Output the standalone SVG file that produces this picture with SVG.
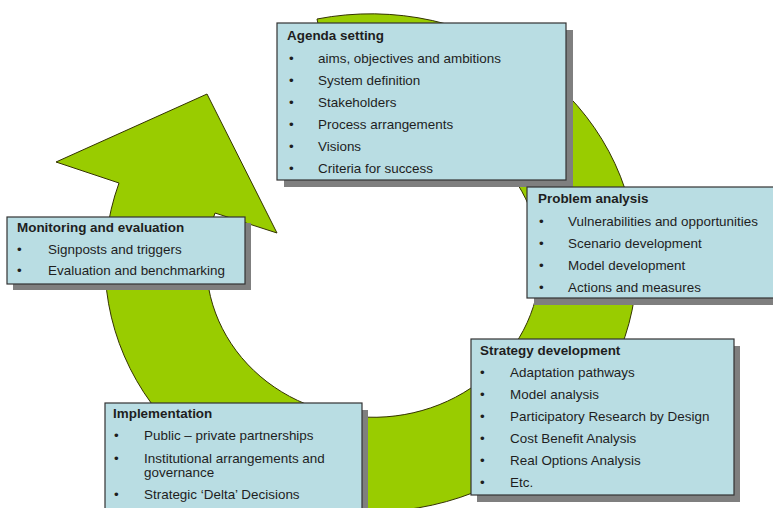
<svg xmlns="http://www.w3.org/2000/svg" width="773" height="508" viewBox="0 0 773 508">
  <style>
    .box { fill: #B9DDE3; stroke: #333333; stroke-width: 1.2; }
    .shadow { fill: #7F7F7F; }
    text { font-family: "Liberation Sans", Arial, sans-serif; font-size: 12px; fill: #1E1E1E; }
    .title { font-weight: bold; }
    .ring { fill: #99CC00; stroke: #333300; stroke-width: 1; stroke-linejoin: miter; }
  </style>
  <rect x="0" y="0" width="773" height="508" fill="#FFFFFF"/>
  <g id="connectors">
    <path class="ring" d="M 317 19 A 266 249 0 1 1 119 183 L 56 162 L 207 94 L 277 233 L 215 213 A 167 155 0 1 0 337 111 Z"/>
  </g>
  <g id="agenda-setting">
    <rect class="shadow" x="284" y="30" width="289" height="157"/>
    <rect class="box" x="277" y="23" width="289" height="157"/>
    <g transform="translate(287,0) scale(1.12,1)">
      <text class="title" x="0" y="40">Agenda setting</text>
      <text x="1.8" y="63">•</text><text x="27.7" y="63">aims, objectives and ambitions</text>
      <text x="1.8" y="85">•</text><text x="27.7" y="85">System definition</text>
      <text x="1.8" y="107">•</text><text x="27.7" y="107">Stakeholders</text>
      <text x="1.8" y="129">•</text><text x="27.7" y="129">Process arrangements</text>
      <text x="1.8" y="151">•</text><text x="27.7" y="151">Visions</text>
      <text x="1.8" y="173">•</text><text x="27.7" y="173">Criteria for success</text>
    </g>
  </g>
  <g id="problem-analysis">
    <rect class="shadow" x="534" y="194" width="260" height="111"/>
    <rect class="box" x="527" y="187" width="260" height="111"/>
    <g transform="translate(538,0) scale(1.12,1)">
      <text class="title" x="0" y="203">Problem analysis</text>
      <text x="0.9" y="226">•</text><text x="26.8" y="226">Vulnerabilities and opportunities</text>
      <text x="0.9" y="248">•</text><text x="26.8" y="248">Scenario development</text>
      <text x="0.9" y="270">•</text><text x="26.8" y="270">Model development</text>
      <text x="0.9" y="292">•</text><text x="26.8" y="292">Actions and measures</text>
    </g>
  </g>
  <g id="monitoring-evaluation">
    <rect class="shadow" x="13" y="223" width="238" height="67"/>
    <rect class="box" x="7" y="217" width="238" height="67"/>
    <g transform="translate(17,0) scale(1.12,1)">
      <text class="title" x="0" y="232">Monitoring and evaluation</text>
      <text x="0" y="254">•</text><text x="27.7" y="254">Signposts and triggers</text>
      <text x="0" y="275">•</text><text x="27.7" y="275">Evaluation and benchmarking</text>
    </g>
  </g>
  <g id="strategy-development">
    <rect class="shadow" x="477" y="346" width="263" height="156"/>
    <rect class="box" x="471" y="339" width="263" height="156"/>
    <g transform="translate(480,0) scale(1.12,1)">
      <text class="title" x="0" y="355">Strategy development</text>
      <text x="0" y="377">•</text><text x="26.8" y="377">Adaptation pathways</text>
      <text x="0" y="399">•</text><text x="26.8" y="399">Model analysis</text>
      <text x="0" y="421">•</text><text x="26.8" y="421">Participatory Research by Design</text>
      <text x="0" y="443">•</text><text x="26.8" y="443">Cost Benefit Analysis</text>
      <text x="0" y="465">•</text><text x="26.8" y="465">Real Options Analysis</text>
      <text x="0" y="487">•</text><text x="26.8" y="487">Etc.</text>
    </g>
  </g>
  <g id="implementation">
    <rect class="shadow" x="111" y="410" width="257" height="110"/>
    <rect class="box" x="105" y="403" width="257" height="115"/>
    <g transform="translate(113,0) scale(1.12,1)">
      <text class="title" x="0" y="418">Implementation</text>
      <text x="0.9" y="440">•</text><text x="27.7" y="440">Public – private partnerships</text>
      <text x="0.9" y="463">•</text><text x="27.7" y="463">Institutional arrangements and</text>
      <text x="27.7" y="477">governance</text>
      <text x="0.9" y="499">•</text><text x="27.7" y="499">Strategic ‘Delta’ Decisions</text>
    </g>
  </g>
</svg>
